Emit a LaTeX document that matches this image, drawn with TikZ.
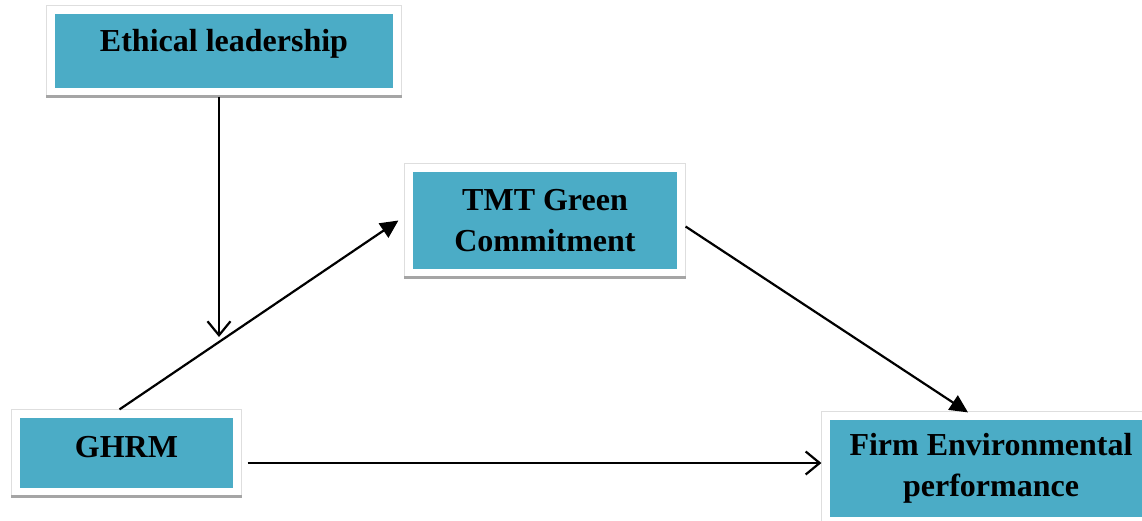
\documentclass[tikz,border=0pt]{standalone}
\usepackage{fontspec}
\setmainfont{Liberation Serif}
\usetikzlibrary{arrows.meta,positioning,fit,calc}
\definecolor{boxteal}{RGB}{75,172,198}
\definecolor{framegray}{RGB}{222,222,222}
\definecolor{shadegray}{RGB}{165,165,165}

\begin{document}
\begin{tikzpicture}[x=1pt, y=-1pt,
		varbox/.style={fill=boxteal, inner sep=0pt, align=center, font=\fontsize{32}{41}\selectfont\bfseries},
		framebox/.style={draw=framegray, line width=0.8pt, inner sep=8pt},
		bar/.style={draw=shadegray, line width=3.5pt},
		openarrow/.style={line width=2.2pt, -{Straight Barb[length=14pt,width=23pt,line width=2.2pt]}},
		fillarrow/.style={line width=2.2pt, -{Triangle[length=18pt,width=17pt]}}]
		\useasboundingbox (0,0) rectangle (1142,520);
		% variables
		\node[varbox, minimum width=338pt, minimum height=74pt, text depth=21pt] (el) at (224,51) {Ethical leadership};
		\node[varbox, minimum width=264pt, minimum height=97pt] (tmt) at (545,220.5) {TMT Green\\Commitment};
		\node[varbox, minimum width=213pt, minimum height=70pt, text depth=12pt] (ghrm) at (126.5,453) {GHRM};
		\node[varbox, minimum width=322pt, minimum height=97pt] (fep) at (991,468.5) {Firm Environmental\\performance};
		% frames
		\foreach \n in {el,tmt,ghrm,fep} {
			\node[framebox, fit=(\n)] (\n F) {};
			\draw[bar] (\n F.south west) -- (\n F.south east);
		}
		\coordinate (mod) at (219,337);
		% paths
		\draw[openarrow] (elF.south -| mod) -- (mod);
		\draw[fillarrow] ([xshift=-7pt]ghrmF.north) -- ([xshift=-6pt]tmtF.west);
		\draw[fillarrow] ([yshift=-6pt]tmtF.east) -- ([xshift=-23pt, yshift=-1pt]fepF.north);
		\draw[openarrow] ([shift={(6pt,-10pt)}]ghrmF.east) coordinate (h) -- (h -| fepF.west);
	\end{tikzpicture}
\end{document}
